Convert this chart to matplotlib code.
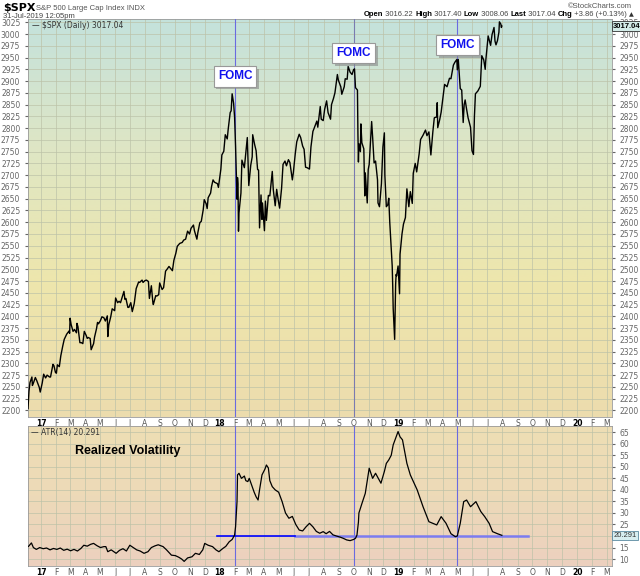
import matplotlib
matplotlib.use("Agg")
import matplotlib.pyplot as plt
import matplotlib.patheffects as pe
import numpy as np
import pandas as pd
from matplotlib.colors import LinearSegmentedColormap
from matplotlib.offsetbox import TextArea, HPacker, AnchoredOffsetbox

# S&P 500 daily closes
spx_dates = [
    "2016-12-05", "2016-12-07", "2016-12-09", "2016-12-13", "2016-12-14", "2016-12-16", "2016-12-20", "2016-12-23", "2016-12-28", "2016-12-30",
    "2017-01-03", "2017-01-06", "2017-01-10", "2017-01-13", "2017-01-18", "2017-01-20", "2017-01-25", "2017-01-27", "2017-01-30", "2017-02-01",
    "2017-02-03", "2017-02-07", "2017-02-10", "2017-02-14", "2017-02-17", "2017-02-22", "2017-02-27", "2017-02-28",
    "2017-03-01", "2017-03-03", "2017-03-07", "2017-03-10", "2017-03-14", "2017-03-15", "2017-03-17", "2017-03-21", "2017-03-24", "2017-03-27", "2017-03-30",
    "2017-04-03", "2017-04-05", "2017-04-07", "2017-04-11", "2017-04-13", "2017-04-18", "2017-04-20", "2017-04-24", "2017-04-26", "2017-04-28",
    "2017-05-02", "2017-05-05", "2017-05-09", "2017-05-12", "2017-05-16", "2017-05-17", "2017-05-19", "2017-05-23", "2017-05-26", "2017-05-31",
    "2017-06-02", "2017-06-06", "2017-06-09", "2017-06-12", "2017-06-19", "2017-06-21", "2017-06-23", "2017-06-27", "2017-06-29",
    "2017-07-03", "2017-07-06", "2017-07-10", "2017-07-14", "2017-07-19", "2017-07-21", "2017-07-26", "2017-07-28",
    "2017-08-01", "2017-08-04", "2017-08-08", "2017-08-10", "2017-08-14", "2017-08-17", "2017-08-18", "2017-08-23", "2017-08-25", "2017-08-29", "2017-08-31",
    "2017-09-05", "2017-09-08", "2017-09-12", "2017-09-15", "2017-09-19", "2017-09-22", "2017-09-26", "2017-09-29",
    "2017-10-03", "2017-10-06", "2017-10-11", "2017-10-16", "2017-10-19", "2017-10-23", "2017-10-27", "2017-10-31",
    "2017-11-03", "2017-11-08", "2017-11-10", "2017-11-15", "2017-11-17", "2017-11-21", "2017-11-24", "2017-11-28", "2017-11-30",
    "2017-12-04", "2017-12-06", "2017-12-08", "2017-12-13", "2017-12-15", "2017-12-18", "2017-12-21", "2017-12-27", "2017-12-29",
    "2018-01-03", "2018-01-05", "2018-01-09", "2018-01-12", "2018-01-16", "2018-01-18", "2018-01-22", "2018-01-24", "2018-01-26", "2018-01-29", "2018-01-31",
    "2018-02-02", "2018-02-05", "2018-02-06", "2018-02-07", "2018-02-08", "2018-02-09", "2018-02-13", "2018-02-15", "2018-02-20", "2018-02-23", "2018-02-26", "2018-02-28",
    "2018-03-01", "2018-03-05", "2018-03-08", "2018-03-09", "2018-03-13", "2018-03-16", "2018-03-19", "2018-03-21", "2018-03-22", "2018-03-23", "2018-03-26", "2018-03-28", "2018-03-29",
    "2018-04-02", "2018-04-04", "2018-04-06", "2018-04-10", "2018-04-13", "2018-04-18", "2018-04-20", "2018-04-24", "2018-04-27", "2018-04-30",
    "2018-05-03", "2018-05-07", "2018-05-10", "2018-05-14", "2018-05-17", "2018-05-21", "2018-05-24", "2018-05-29", "2018-05-31",
    "2018-06-04", "2018-06-07", "2018-06-12", "2018-06-15", "2018-06-19", "2018-06-22", "2018-06-25", "2018-06-28",
    "2018-07-03", "2018-07-06", "2018-07-10", "2018-07-13", "2018-07-18", "2018-07-20", "2018-07-25", "2018-07-27", "2018-07-31",
    "2018-08-03", "2018-08-07", "2018-08-10", "2018-08-15", "2018-08-17", "2018-08-21", "2018-08-24", "2018-08-29", "2018-08-31",
    "2018-09-05", "2018-09-07", "2018-09-12", "2018-09-14", "2018-09-18", "2018-09-20", "2018-09-24", "2018-09-28",
    "2018-10-01", "2018-10-03", "2018-10-05", "2018-10-09", "2018-10-10", "2018-10-11", "2018-10-12", "2018-10-15", "2018-10-16", "2018-10-18", "2018-10-22", "2018-10-24", "2018-10-25", "2018-10-29", "2018-10-31",
    "2018-11-02", "2018-11-07", "2018-11-09", "2018-11-12", "2018-11-15", "2018-11-19", "2018-11-20", "2018-11-23", "2018-11-27", "2018-11-29", "2018-11-30",
    "2018-12-03", "2018-12-04", "2018-12-07", "2018-12-10", "2018-12-12", "2018-12-14", "2018-12-17", "2018-12-19", "2018-12-20", "2018-12-21", "2018-12-24", "2018-12-26", "2018-12-27", "2018-12-28", "2018-12-31",
    "2019-01-03", "2019-01-04", "2019-01-08", "2019-01-11", "2019-01-15", "2019-01-18", "2019-01-22", "2019-01-25", "2019-01-29", "2019-01-31",
    "2019-02-04", "2019-02-07", "2019-02-12", "2019-02-15", "2019-02-20", "2019-02-25", "2019-02-28",
    "2019-03-04", "2019-03-08", "2019-03-12", "2019-03-15", "2019-03-20", "2019-03-21", "2019-03-22", "2019-03-26", "2019-03-29",
    "2019-04-02", "2019-04-05", "2019-04-10", "2019-04-15", "2019-04-18", "2019-04-23", "2019-04-26", "2019-04-30",
    "2019-05-01", "2019-05-03", "2019-05-07", "2019-05-10", "2019-05-13", "2019-05-15", "2019-05-17", "2019-05-20", "2019-05-23", "2019-05-28", "2019-05-31",
    "2019-06-03", "2019-06-05", "2019-06-07", "2019-06-12", "2019-06-17", "2019-06-20", "2019-06-24", "2019-06-27", "2019-06-28",
    "2019-07-03", "2019-07-08", "2019-07-11", "2019-07-15", "2019-07-17", "2019-07-19", "2019-07-22", "2019-07-25", "2019-07-26", "2019-07-29", "2019-07-30", "2019-07-31",
]
spx_close = [
    2204, 2241, 2259, 2271, 2253, 2258, 2270, 2263, 2249, 2239,
    2258, 2277, 2269, 2275, 2271, 2271, 2298, 2295, 2281, 2279,
    2297, 2293, 2316, 2337, 2351, 2362, 2369, 2364,
    2396, 2383, 2368, 2372, 2365, 2385, 2378, 2344, 2344, 2342, 2368,
    2359, 2353, 2355, 2353, 2329, 2342, 2356, 2374, 2387, 2384,
    2391, 2399, 2397, 2390, 2401, 2357, 2382, 2399, 2416, 2412,
    2439, 2429, 2432, 2429, 2453, 2436, 2438, 2419, 2419,
    2429, 2410, 2427, 2459, 2473, 2472, 2477, 2472,
    2476, 2477, 2474, 2438, 2465, 2430, 2425, 2444, 2443, 2446, 2471,
    2457, 2461, 2496, 2500, 2506, 2502, 2497, 2519,
    2534, 2549, 2555, 2557, 2562, 2564, 2581, 2575,
    2587, 2594, 2582, 2564, 2578, 2599, 2602, 2627, 2648,
    2639, 2629, 2652, 2662, 2676, 2690, 2685, 2682, 2674,
    2713, 2743, 2751, 2786, 2777, 2798, 2833, 2837, 2873, 2853, 2824,
    2762, 2649, 2695, 2681, 2581, 2620, 2662, 2732, 2716, 2747, 2780, 2714,
    2678, 2721, 2739, 2786, 2765, 2752, 2712, 2711, 2644, 2588, 2658, 2606, 2641,
    2582, 2645, 2604, 2657, 2656, 2708, 2670, 2635, 2670, 2648,
    2630, 2672, 2723, 2730, 2720, 2733, 2727, 2690, 2705,
    2746, 2771, 2787, 2780, 2762, 2755, 2717, 2716,
    2713, 2760, 2793, 2801, 2815, 2802, 2846, 2819, 2816,
    2840, 2858, 2833, 2819, 2850, 2863, 2875, 2914, 2902,
    2888, 2872, 2888, 2905, 2904, 2931, 2919, 2914,
    2924, 2926, 2886, 2881, 2786, 2728, 2767, 2750, 2809, 2769, 2756, 2656, 2705, 2641, 2712,
    2723, 2814, 2781, 2726, 2730, 2690, 2641, 2633, 2682, 2738, 2760,
    2790, 2700, 2633, 2637, 2651, 2600, 2546, 2507, 2467, 2417, 2351, 2468, 2489, 2486, 2507,
    2448, 2532, 2575, 2596, 2610, 2671, 2633, 2665, 2640, 2704,
    2725, 2707, 2745, 2776, 2785, 2796, 2784,
    2792, 2743, 2792, 2822, 2824, 2854, 2801, 2818, 2834,
    2867, 2893, 2888, 2906, 2905, 2934, 2940, 2946,
    2924, 2946, 2884, 2881, 2812, 2850, 2860, 2840, 2822, 2802, 2752,
    2744, 2826, 2873, 2879, 2889, 2954, 2945, 2925, 2942,
    2996, 2976, 2999, 3014, 2985, 2977, 2986, 3004, 3026, 3021, 3014, 3017,
]

# ATR(14) - lower panel
atr_dates = [
    "2016-12-06", "2016-12-12", "2016-12-16", "2016-12-22", "2016-12-29",
    "2017-01-05", "2017-01-12", "2017-01-19", "2017-01-26", "2017-02-02", "2017-02-09", "2017-02-16", "2017-02-23",
    "2017-03-02", "2017-03-09", "2017-03-16", "2017-03-23", "2017-03-29", "2017-04-05", "2017-04-12", "2017-04-18", "2017-04-25",
    "2017-05-02", "2017-05-09", "2017-05-13", "2017-05-17", "2017-05-24", "2017-06-03", "2017-06-10", "2017-06-17", "2017-06-24",
    "2017-07-01", "2017-07-08", "2017-07-15", "2017-07-22", "2017-07-30", "2017-08-07", "2017-08-14", "2017-08-21", "2017-08-28",
    "2017-09-07", "2017-09-14", "2017-09-24", "2017-10-02", "2017-10-09", "2017-10-15", "2017-10-20", "2017-10-27",
    "2017-11-05", "2017-11-12", "2017-11-20", "2017-11-27", "2017-12-01", "2017-12-08", "2017-12-17", "2017-12-24", "2017-12-30",
    "2018-01-07", "2018-01-13", "2018-01-20", "2018-01-26", "2018-01-31",
    "2018-02-02", "2018-02-05", "2018-02-06", "2018-02-09", "2018-02-14", "2018-02-20", "2018-02-23", "2018-02-27",
    "2018-03-02", "2018-03-07", "2018-03-12", "2018-03-16", "2018-03-20", "2018-03-23", "2018-03-28",
    "2018-04-03", "2018-04-06", "2018-04-10", "2018-04-13", "2018-04-18", "2018-04-24",
    "2018-05-01", "2018-05-08", "2018-05-15", "2018-05-22", "2018-05-29", "2018-06-05", "2018-06-12", "2018-06-19", "2018-06-26",
    "2018-07-03", "2018-07-10", "2018-07-17", "2018-07-24", "2018-07-31", "2018-08-06", "2018-08-13", "2018-08-20", "2018-08-27",
    "2018-09-04", "2018-09-10", "2018-09-17", "2018-09-24", "2018-10-01", "2018-10-05", "2018-10-08", "2018-10-11", "2018-10-12",
    "2018-10-18", "2018-10-25", "2018-11-02", "2018-11-09", "2018-11-15", "2018-11-26",
    "2018-12-03", "2018-12-07", "2018-12-12", "2018-12-17", "2018-12-21", "2018-12-31",
    "2019-01-04", "2019-01-09", "2019-01-18", "2019-01-25", "2019-02-08", "2019-02-20", "2019-03-04", "2019-03-12", "2019-03-20", "2019-03-29",
    "2019-04-08", "2019-04-18", "2019-04-27", "2019-05-01", "2019-05-07", "2019-05-14", "2019-05-20", "2019-05-28",
    "2019-06-08", "2019-06-18", "2019-06-26", "2019-07-05", "2019-07-12", "2019-07-22", "2019-07-31",
]
atr_vals = [
    15.5, 17.0, 15.0, 14.2, 15.0,
    14.5, 14.8, 14.0, 14.6, 14.2, 14.8, 13.8, 14.3,
    13.6, 14.2, 13.5, 14.6, 16.0, 15.6, 16.4, 16.8, 15.8,
    15.0, 15.4, 15.4, 13.2, 14.0, 12.5, 13.8, 14.5, 13.5,
    16.0, 15.0, 14.0, 13.5, 12.5, 13.2, 15.0, 15.7, 16.2,
    15.4, 14.0, 11.7, 11.5, 10.8, 10.0, 9.0, 10.5,
    11.0, 12.5, 12.0, 14.0, 16.8, 16.0, 15.4, 14.0, 13.2,
    14.6, 15.5, 17.5, 18.5, 20.4,
    24.0, 35.0, 46.5, 47.2, 45.0, 46.0, 44.0, 43.6,
    45.0, 42.0, 39.0, 37.0, 35.6, 40.0, 46.5,
    49.0, 50.8, 49.5, 44.0, 41.4, 40.0,
    39.0, 35.0, 30.0, 27.7, 28.5, 25.0, 22.6, 22.2, 24.0,
    25.5, 24.0, 22.0, 21.2, 21.9, 21.0, 22.0, 20.5, 20.0,
    19.5, 19.0, 18.3, 18.0, 18.5, 19.0, 20.4, 26.0, 30.0,
    34.0, 38.5, 49.4, 45.0, 47.2, 42.9,
    48.0, 51.5, 53.0, 55.0, 59.5, 65.3,
    63.0, 61.7, 51.5, 46.5, 40.0, 32.7, 26.2, 25.5, 24.8, 28.4,
    25.5, 21.0, 19.7, 20.0, 25.5, 34.9, 35.6, 32.7,
    34.9, 30.6, 28.4, 25.5, 21.9, 21.0, 20.3,
]

fomc_dates = ["2018-02-01", "2018-10-01", "2019-05-01"]
fomc_label_y = [2910, 2960, 2976]
support_start = ["2017-12-26", "2018-06-04"]
support_end = ["2018-06-04", "2019-09-22"]
support_level = [20.2, 20.0]

spx_x = pd.to_datetime(spx_dates)
atr_x = pd.to_datetime(atr_dates)
xmin, xmax = pd.Timestamp("2016-12-05"), pd.Timestamp("2020-03-12")
months = pd.date_range("2017-01-01", "2020-03-01", freq="MS")
month_labels = [("%02d" % (m.year % 100)) if m.month == 1 else m.strftime("%b")[0] for m in months]

fig = plt.figure(figsize=(6.4, 5.76), dpi=100)
ax1 = fig.add_axes([28/640, 1-417/576, 584/640, 398/576])
ax2 = fig.add_axes([28/640, 1-566/576, 584/640, 140/576])

def gradient(ax, colors):
    cmap = LinearSegmentedColormap.from_list("g", colors)
    grad = np.linspace(0, 1, 256).reshape(-1, 1)
    ax.imshow(grad, cmap=cmap, aspect="auto", extent=[0, 1, 0, 1],
              transform=ax.transAxes, origin="lower", zorder=0)

gradient(ax1, ["#ecdcae", "#eee6ac", "#dfe6c4", "#c4e2dc"])
gradient(ax2, ["#ecd0bf", "#eddab8", "#eedeb4"])

grid_c = "#bcc2a8"
for ax in (ax1, ax2):
    ax.set_xlim(xmin, xmax)
    ax.set_xticks(months)
    ax.set_xticklabels(month_labels)
    ax.tick_params(axis="x", length=0, pad=1.5, labelsize=5.5, colors="#555555")
    for lab, m in zip(ax.get_xticklabels(), months):
        if m.month == 1:
            lab.set_fontweight("bold")
            lab.set_color("black")
    ax.tick_params(axis="y", length=2, labelsize=5.5, colors="#666666", labelright=True, right=True)
    ax.grid(True, color=grid_c, lw=0.6, alpha=0.8)
    for sp in ax.spines.values():
        sp.set_color("#9a9a9a")
        sp.set_linewidth(0.6)
    ax.set_axisbelow(True)

# upper panel
ax1.plot(spx_x, spx_close, color="black", lw=1.0, zorder=4)
ax1.set_ylim(2186, 3032)
ax1.set_yticks(np.arange(2200, 3026, 25))
ax1.tick_params(axis="y", labelleft=True, left=True)
for i, (d, yv) in enumerate(zip(fomc_dates, fomc_label_y)):
    d = pd.Timestamp(d)
    lc = "#7a7ab0" if i == 1 else "#6a6ae0"
    ax1.axvline(d, color=lc, lw=0.8, zorder=3)
    ax2.axvline(d, color="#6a6ae0", lw=0.8, zorder=3)
    t = ax1.text(d, yv, "FOMC", ha="center", va="center", fontsize=8.5, family="Liberation Sans",
                 fontweight="bold", color="#1010ee", zorder=6,
                 bbox=dict(boxstyle="square,pad=0.35", fc="white", ec="#999999", lw=0.8))
    t.get_bbox_patch().set_path_effects([pe.SimplePatchShadow(offset=(2, -2), shadow_rgbFace="#888888", alpha=0.6),
                                         pe.Normal()])
ax1.text(0.006, 0.996, "\u2014 \\$SPX (Daily) 3017.04", transform=ax1.transAxes, ha="left", va="top",
         fontsize=5.5, color="#333333", zorder=6)
ax1.annotate("3017.04", xy=(1.002, spx_close[-1]), xycoords=("axes fraction", "data"), ha="left",
             va="center", fontsize=5.5, family="Liberation Sans", fontweight="bold", color="black",
             annotation_clip=False, zorder=7,
             bbox=dict(boxstyle="square,pad=0.15", fc="#d4ece8", ec="#333333", lw=0.6))

# lower panel
ax2.plot(atr_x, atr_vals, color="black", lw=0.9, zorder=4)
ax2.set_ylim(7, 67.7)
ax2.set_yticks(np.arange(10, 66, 5))
ax2.tick_params(axis="y", labelleft=False, left=False)
ax2.plot([pd.Timestamp(support_start[1]), pd.Timestamp(support_end[1])], [support_level[1]] * 2,
         color="#7b7bf0", lw=1.8, zorder=3)
ax2.plot([pd.Timestamp(support_start[0]), pd.Timestamp(support_end[0])], [support_level[0]] * 2,
         color="#0000ff", lw=1.2, zorder=3)
ax2.text(0.005, 0.985, "\u2014 ATR(14) 20.291", transform=ax2.transAxes, ha="left", va="top",
         fontsize=5.5, color="#333333", zorder=6)
ax2.text(pd.Timestamp("2017-03-11"), 56.8, "Realized Volatility", ha="left", va="center", fontsize=9,
         family="Liberation Sans", fontweight="bold", color="black", zorder=6)
ax2.annotate("20.291", xy=(1.002, atr_vals[-1]), xycoords=("axes fraction", "data"), ha="left",
             va="center", fontsize=5.5, family="Liberation Sans", color="#333333",
             annotation_clip=False, zorder=7,
             bbox=dict(boxstyle="square,pad=0.15", fc="#d8eef0", ec="#5a8aa0", lw=0.6))

# header
fig.text(3/640, 1-8/576, "\\$SPX", fontsize=8, fontweight="bold", va="center", ha="left")
fig.text(36/640, 1-8/576, "S&P 500 Large Cap Index INDX", fontsize=5.5, family="Liberation Sans",
         color="#555555", va="center")
fig.text(3/640, 1-16/576, "31-Jul-2019 12:05pm", fontsize=5.5, family="Liberation Sans",
         color="#444444", va="center")
fig.text(632/640, 1-7/576, "\u00a9StockCharts.com", fontsize=5.5, family="Liberation Sans",
         color="#555555", va="center", ha="right")
parts = [("Open", True), (" 3016.22 ", False), ("High", True), (" 3017.40 ", False), ("Low", True),
         (" 3008.06 ", False), ("Last", True), (" 3017.04 ", False), ("Chg", True),
         (" +3.86 (+0.13%) ", False)]
boxes = [TextArea(t, textprops=dict(fontsize=5.5, family="Liberation Sans",
                                    fontweight="bold" if b else "normal",
                                    color="black" if b else "#444444")) for t, b in parts]
boxes.append(TextArea("\u25b2", textprops=dict(fontsize=4.5, color="#333333")))
pack = HPacker(children=boxes, align="baseline", pad=0, sep=0)
anch = AnchoredOffsetbox(loc="center right", child=pack, frameon=False, pad=0, borderpad=0,
                         bbox_to_anchor=(634/640, 1-15/576), bbox_transform=fig.transFigure)
fig.add_artist(anch)

fig.savefig("out.png", dpi=100)
